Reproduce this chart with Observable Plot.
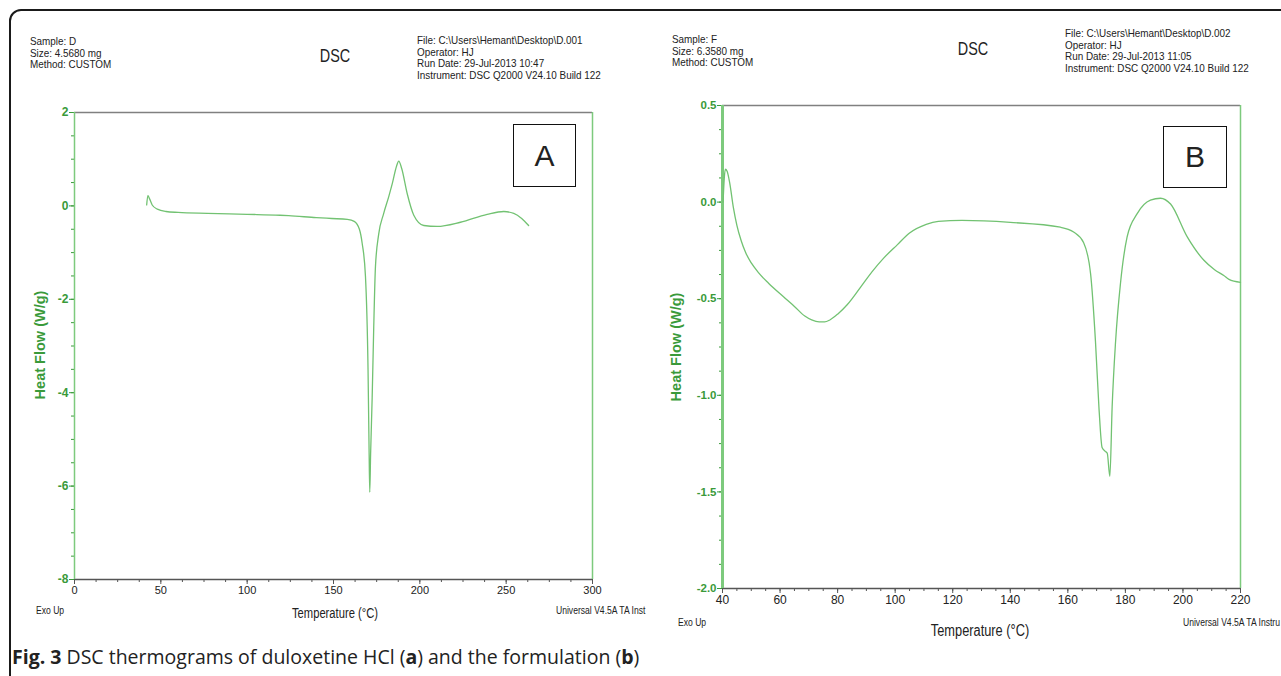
<!DOCTYPE html>
<html><head><meta charset="utf-8">
<script src="https://cdn.jsdelivr.net/npm/d3@7"></script>
<script src="https://cdn.jsdelivr.net/npm/@observablehq/plot@0.6"></script>
<style>
html,body{margin:0;padding:0;}
body{width:1281px;height:676px;overflow:hidden;background:#fff;position:relative;
 font-family:"Liberation Sans",Arial,sans-serif;color:#222;}
.abs{position:absolute;white-space:nowrap;}
.hdr{font-size:11px;line-height:11px;transform:scaleX(0.9);transform-origin:0 50%;}
.dsc{font-size:18px;line-height:18px;transform:translateX(-50%) scaleX(0.8);}
.box{position:absolute;border:1.5px solid #111;font-family:"Liberation Sans",Arial,sans-serif;font-size:30px;
 display:flex;align-items:center;justify-content:center;box-sizing:border-box;background:#fff;}
.ylab{font-size:14.5px;font-weight:bold;color:#3a9a3a;font-family:"Liberation Sans",Arial,sans-serif;
 transform:translate(-50%,-50%) rotate(-90deg);}
.small{font-size:11px;line-height:11px;transform:scaleX(0.78);transform-origin:0 50%;}
#outer{position:absolute;left:9px;top:9px;width:1320px;height:720px;border:2px solid #1a1a1a;border-top-left-radius:12px;}
#cap{position:absolute;left:12px;top:644px;font-family:"Open Sans",sans-serif;font-size:19.5px;line-height:26px;color:#222;white-space:nowrap;}
</style></head><body>
<div id="outer"></div>
<div id="root"></div>
<script>
// ---------- Data ----------
// Panel A: duloxetine HCl (Sample D)
const tempA = [41.8, 42.5, 43.5, 45, 48, 53, 60, 77, 100, 119, 124, 140, 149, 158, 162, 165, 166.6, 168.5, 170, 170.6, 171, 171.5, 172.4, 173.3, 174.3, 176.2, 179, 182, 184, 186.5, 187.8, 189.5, 192.7, 196.5, 202.3, 210, 223.5, 239, 248.6, 254.4, 259, 263];
const heatA = [0.02, 0.22, 0.15, 0.02, -0.07, -0.12, -0.14, -0.16, -0.18, -0.2, -0.21, -0.25, -0.27, -0.29, -0.33, -0.5, -0.8, -1.5, -3.5, -5.2, -6.13, -5.3, -4.1, -2.6, -1.3, -0.6, -0.17, 0.2, 0.47, 0.85, 0.96, 0.8, 0.26, -0.2, -0.42, -0.44, -0.35, -0.18, -0.12, -0.16, -0.27, -0.42];
// Panel B: formulation (Sample F)
const tempB = [40.2, 40.6, 41, 41.6, 42.5, 43.8, 45, 46.5, 48, 50, 52.5, 56, 61.2, 65, 68.6, 71, 73.6, 75.5, 77.3, 80, 83.4, 88, 92, 96, 100.8, 105, 110.8, 115, 123.2, 140, 157.4, 162, 165.5, 167.9, 169.6, 170.8, 171.9, 173, 173.7, 174.6, 175.4, 176.6, 178.3, 180.6, 184.1, 188.7, 192.2, 195.7, 201.5, 207.2, 211, 214.2, 216, 220];
const heatB = [0.0, 0.12, 0.17, 0.16, 0.1, -0.03, -0.12, -0.2, -0.26, -0.315, -0.365, -0.42, -0.49, -0.54, -0.59, -0.61, -0.62, -0.62, -0.61, -0.58, -0.53, -0.44, -0.36, -0.29, -0.22, -0.16, -0.115, -0.1, -0.095, -0.105, -0.13, -0.155, -0.21, -0.37, -0.72, -1.06, -1.27, -1.29, -1.3, -1.42, -1.06, -0.72, -0.42, -0.18, -0.06, 0.01, 0.02, -0.01, -0.18, -0.3, -0.35, -0.38, -0.4, -0.415];
// Ticks
const xTicksA = [0, 50, 100, 150, 200, 250, 300];
const xMinorA = d3.range(0, 300.1, 12.5);
const yTicksA = [2, 0, -2, -4, -6, -8];
const yMinorA = d3.range(-8, 2.01, 0.5);
const xTicksB = [40, 60, 80, 100, 120, 140, 160, 180, 200, 220];
const xMinorB = d3.range(40, 220.1, 5);
const yTicksB = [0.5, 0.0, -0.5, -1.0, -1.5, -2.0];
const yMinorB = d3.range(-2, 0.501, 0.125);
// Header texts
const headerA = {left: ["Sample: D", "Size:  4.5680 mg", "Method: CUSTOM"], title: "DSC",
  right: ["File: C:\\Users\\Hemant\\Desktop\\D.001", "Operator: HJ", "Run Date: 29-Jul-2013 10:47", "Instrument: DSC Q2000 V24.10 Build 122"],
  exo: "Exo Up", xlabel: "Temperature (°C)", ylabel: "Heat Flow (W/g)", soft: "Universal V4.5A TA Inst", tag: "A"};
const headerB = {left: ["Sample: F", "Size:  6.3580 mg", "Method: CUSTOM"], title: "DSC",
  right: ["File: C:\\Users\\Hemant\\Desktop\\D.002", "Operator: HJ", "Run Date: 29-Jul-2013 11:05", "Instrument: DSC Q2000 V24.10 Build 122"],
  exo: "Exo Up", xlabel: "Temperature (°C)", ylabel: "Heat Flow (W/g)", soft: "Universal V4.5A TA Instru", tag: "B"};

const seriesA = tempA.map((t, i) => ({T: t, v: heatA[i]}));
const seriesB = tempB.map((t, i) => ({T: t, v: heatB[i]}));

const root = document.getElementById("root");
function addDiv(cls, text, left, top, extra) {
  const d = document.createElement("div");
  d.className = "abs " + cls;
  d.textContent = text;
  d.style.left = left + "px"; d.style.top = top + "px";
  if (extra) Object.assign(d.style, extra);
  root.appendChild(d);
  return d;
}

const fontSans = '"Liberation Sans",Arial,sans-serif';
const curveColor = "#72c272";
const greenAxis = "#7dca7d";
const greenText = "#3a9a3a";

function makePlot(cfg) {
  const p = Plot.plot({
    width: cfg.w, height: cfg.h,
    marginLeft: cfg.ml, marginRight: cfg.mr, marginTop: cfg.mt, marginBottom: cfg.mb,
    x: {domain: cfg.xd, label: null},
    y: {domain: cfg.yd, label: null},
    style: {fontFamily: fontSans, background: "transparent", overflow: "visible"},
    marks: [
      Plot.ruleY([cfg.yd[1]], {stroke: "#808080", strokeWidth: 1.5}),
      Plot.ruleX([cfg.xd[1]], {stroke: greenAxis, strokeWidth: 1.5}),
      Plot.ruleY([cfg.yd[0]], {stroke: "#555", strokeWidth: 1.5}),
      Plot.axisX(cfg.xMinor, {tickSize: 3, stroke: "#555", fill: "none", tickFormat: () => "", label: null}),
      Plot.axisX(cfg.xTicks, {tickSize: 5, stroke: "#555", fill: "#222", fontSize: cfg.fx, tickPadding: 2, label: null, tickFormat: cfg.xfmt}),
      Plot.axisY(cfg.yMinor, {tickSize: 3, stroke: greenText, fill: "none", tickFormat: () => "", label: null}),
      Plot.axisY(cfg.yTicks, {tickSize: 5, stroke: greenText, fill: greenText, fontSize: cfg.fy, fontWeight: "bold", tickPadding: 1, label: null, tickFormat: cfg.yfmt}),
      Plot.ruleX([cfg.xd[0]], {stroke: greenAxis, strokeWidth: cfg.lw}),
      Plot.line(cfg.data, {x: "T", y: "v", stroke: curveColor, strokeWidth: 1.3, curve: "monotone-x"})
    ]
  });
  p.style.position = "absolute";
  p.style.left = cfg.left + "px";
  p.style.top = cfg.top + "px";
  root.appendChild(p);
}

makePlot({data: seriesA, left: 0, top: 100, w: 640, h: 520, ml: 74, mr: 48, mt: 12, mb: 41,
  xd: [0, 300], yd: [-8, 2], xTicks: xTicksA, xMinor: xMinorA, yTicks: yTicksA, yMinor: yMinorA,
  fx: 11, fy: 12, lw: 1.5, xfmt: d => String(d), yfmt: d => String(d)});
makePlot({data: seriesB, left: 640, top: 90, w: 641, h: 560, ml: 82, mr: 41, mt: 15, mb: 62,
  xd: [40, 220], yd: [-2, 0.5], xTicks: xTicksB, xMinor: xMinorB, yTicks: yTicksB, yMinor: yMinorB,
  fx: 12, fy: 11.5, lw: 3, xfmt: d => String(d), yfmt: d => d.toFixed(1)});

// Headers
function header(h, o) {
  h.left.forEach((t, i) => addDiv("hdr", t, o.lx, o.ly + i * 11.6));
  addDiv("dsc", h.title, o.dx, o.dy);
  h.right.forEach((t, i) => addDiv("hdr", t, o.rx, o.ry + i * 11.6));
  addDiv("small", h.exo, o.ex, o.ey);
  addDiv("", h.xlabel, o.xlx, o.xly, {fontSize: o.xlf + "px", lineHeight: o.xlf + "px", transform: "translateX(-50%) scaleX(" + o.xls + ")"});
  addDiv("small", h.soft, o.sx, o.sy);
  addDiv("ylab", h.ylabel, o.yx, o.yy);
  const b = document.createElement("div");
  b.className = "box"; b.textContent = h.tag;
  Object.assign(b.style, {left: o.bx + "px", top: o.by + "px", width: o.bw + "px", height: o.bh + "px"});
  root.appendChild(b);
}
header(headerA, {lx: 30, ly: 36, dx: 335, dy: 47, rx: 417, ry: 35, ex: 36, ey: 605, xlx: 335, xly: 606, xlf: 14, xls: 0.8,
  sx: 556, sy: 605, yx: 40, yy: 345, bx: 513, by: 124, bw: 63, bh: 63});
header(headerB, {lx: 672, ly: 34, dx: 973, dy: 40, rx: 1065, ry: 28, ex: 678, ey: 617, xlx: 980, xly: 623, xlf: 16, xls: 0.8,
  sx: 1183, sy: 617, yx: 676, yy: 347, bx: 1163, by: 126, bw: 64, bh: 62});

const cap = document.createElement("div");
cap.id = "cap";
cap.innerHTML = "<b>Fig. 3</b> DSC thermograms of duloxetine HCl (<b>a</b>) and the formulation (<b>b</b>)";
document.body.appendChild(cap);
</script>
</body></html>
